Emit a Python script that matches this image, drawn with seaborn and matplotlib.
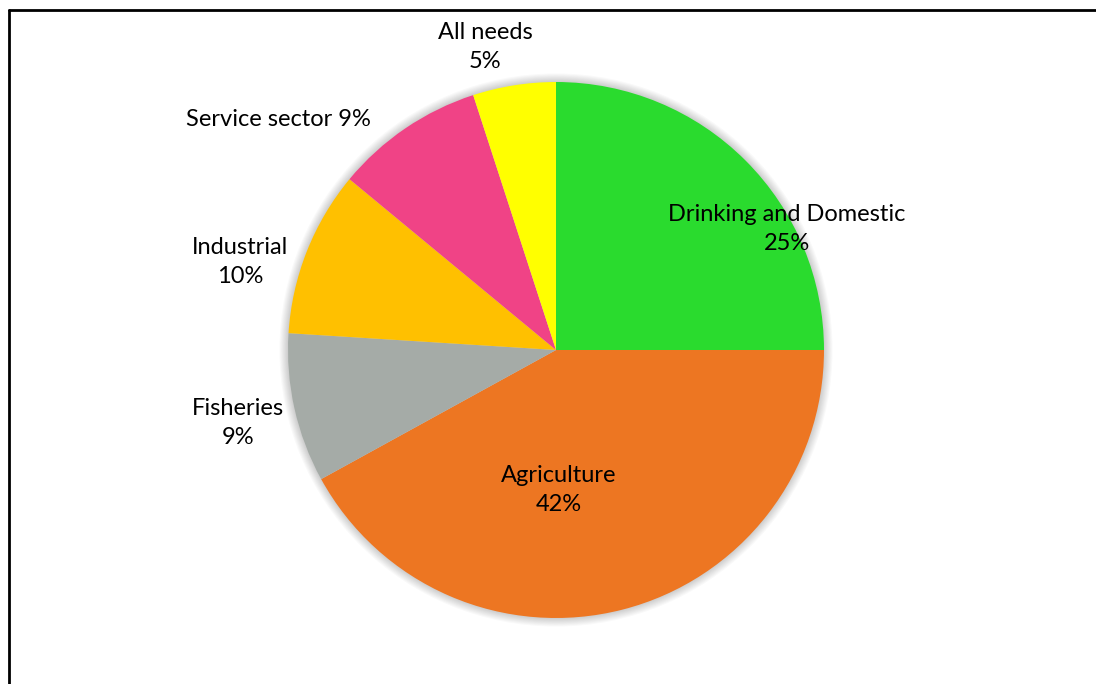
import matplotlib
matplotlib.use("Agg")
import matplotlib.pyplot as plt
import seaborn as sns
from matplotlib.lines import Line2D
from matplotlib.patches import Circle

sns.set_theme(style="white")
plt.rcParams['font.family'] = ['Lato', 'DejaVu Sans']

categories = ["Drinking and Domestic", "Agriculture", "Fisheries", "Industrial", "Service sector", "All needs"]
values = [25, 42, 9, 10, 9, 5]
colors = ["#2ADB2E", "#ED7622", "#A5ABA7", "#FFC000", "#F04386", "#FFFF00"]
label_texts = ["Drinking and Domestic\n25%", "Agriculture\n42%", "Fisheries\n9%",
               "Industrial\n10%", "Service sector 9%", "All needs\n5%"]
# label centres in pixel coords of the 1096x684 canvas
label_px = [(787, 229), (559, 490), (238, 423), (240, 262), (278, 120), (485, 47)]

W, H, DPI = 1096, 684, 100
cx, cy, R = 556, 350, 268

fig = plt.figure(figsize=(W / DPI, H / DPI), dpi=DPI)
ax = fig.add_axes([0, 0, 1, 1])

# soft shadow
for i in range(8):
    ax.add_patch(Circle((0.0, 0.0), 1.0 + 0.004 * (i + 1), color="black",
                        alpha=0.025, lw=0, zorder=0))

ax.pie(values, colors=colors, startangle=90, counterclock=False, radius=1.0,
       wedgeprops=dict(linewidth=0, edgecolor="none"), frame=True)
ax.set_xlim(-cx / R, (W - cx) / R)
ax.set_ylim(-(H - cy) / R, cy / R)
ax.set_aspect("equal")
ax.axis("off")

for txt, (px, py) in zip(label_texts, label_px):
    ax.text((px - cx) / R, (cy - py) / R, txt, ha="center", va="center",
            fontsize=17, color="black", linespacing=1.5, zorder=5)

# outer frame (top and left lines)
fig.add_artist(Line2D([9 / W, 1.0], [1 - 10 / H, 1 - 10 / H], color="black", lw=2.0,
                      transform=fig.transFigure))
fig.add_artist(Line2D([9 / W, 9 / W], [0.0, 1 - 10 / H], color="black", lw=2.0,
                      transform=fig.transFigure))

fig.savefig("out.png", dpi=DPI, facecolor="white")
